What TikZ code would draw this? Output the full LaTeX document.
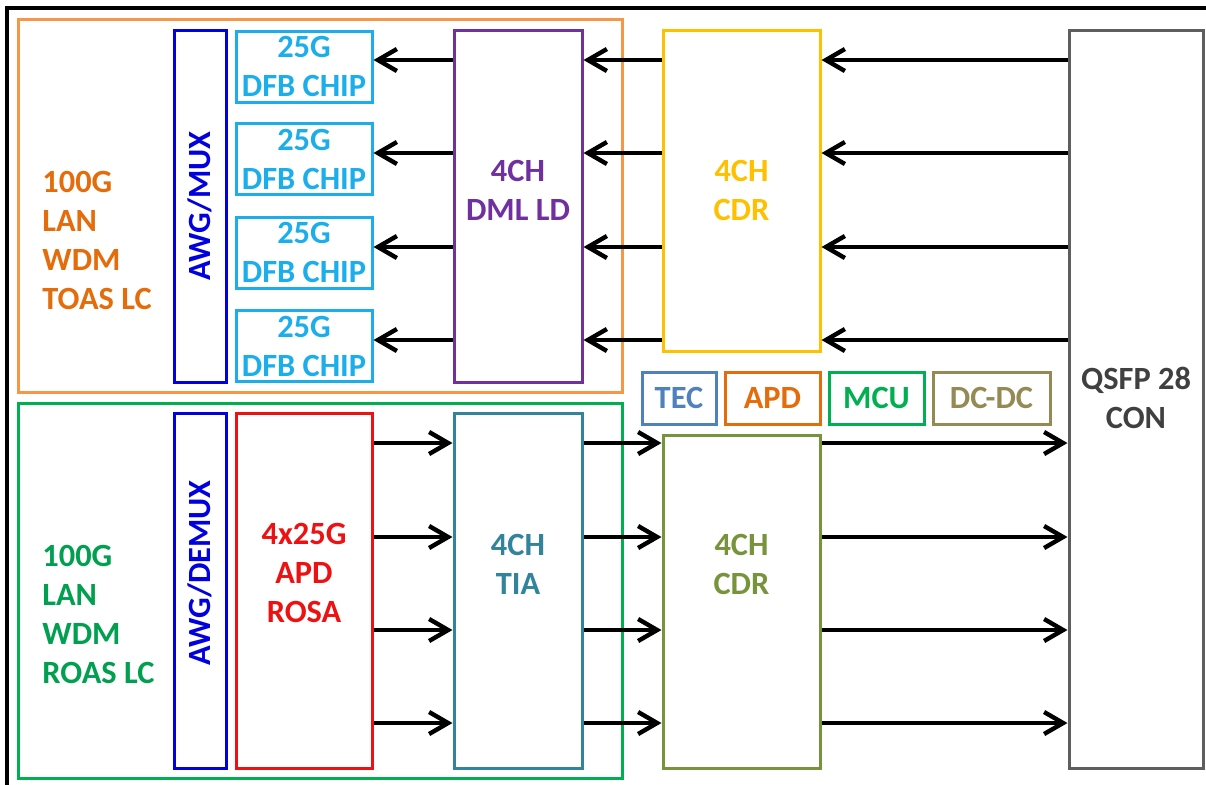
\documentclass[tikz,border=0pt]{standalone}
\usepackage{fontspec}
\setmainfont{Carlito}
\usetikzlibrary{arrows.meta}
\definecolor{txorange}{HTML}{F79646}
\definecolor{txtext}{HTML}{E46C0A}
\definecolor{rxgreen}{HTML}{00B050}
\definecolor{rxtext}{HTML}{00A050}
\definecolor{muxblue}{HTML}{0000E0}
\definecolor{dfbblue}{HTML}{1CAEEA}
\definecolor{ldpurple}{HTML}{7030A0}
\definecolor{cdryellow}{HTML}{FFC000}
\definecolor{qsfpgray}{HTML}{5E5E5E}
\definecolor{qsfptext}{HTML}{404040}
\definecolor{rosared}{HTML}{EE1111}
\definecolor{tiateal}{HTML}{31849B}
\definecolor{cdrolive}{HTML}{77933C}
\definecolor{tecblue}{HTML}{4F81BD}
\definecolor{apdorange}{HTML}{E46C0A}
\definecolor{dcdckhaki}{HTML}{948A54}
\newcommand{\blkfont}{\bfseries\fontsize{16.2}{19.5}\selectfont}

\begin{document}
\begin{tikzpicture}[x=0.5pt,y=-0.5pt]
		\tikzset{blk/.style={draw=#1,line width=1.5pt,text=#1,inner sep=0pt,align=center,font=\blkfont},
			txt/.style={text=#1,inner sep=0pt,font=\blkfont},
			sig/.style={line width=2.2pt,black,-{Straight Barb[length=9.5pt,width=11pt]}}}
		\useasboundingbox (0,0) rectangle (1206,784);
		\draw [line width=2pt] (7,795) -- (7,8) -- (1215,8);
		% transmit and receive groups
		\node (tx) at (320,205.5) [blk=txorange,minimum width=302pt,minimum height=186.5pt] {};
		\node (rx) at (320,590.5) [blk=rxgreen,minimum width=302pt,minimum height=187.5pt] {};
		\node (txtxt) at (42,240.5) [txt=txtext,anchor=west,align=left] {100G\\LAN\\WDM\\TOAS LC};
		\node (rxtxt) at (42,614.5) [txt=rxtext,anchor=west,align=left] {100G\\LAN\\WDM\\ROAS LC};
		% transmit side
		\node (mux) at (200,206) [blk=muxblue,rotate=90,minimum width=176pt,minimum height=26pt] {AWG/MUX};
		\foreach \y [count=\i] in {66.5,159,252.5,346}
			\node (dfb\i) at (304,\y) [blk=dfbblue,minimum width=68pt,minimum height=35.5pt] {25G\\DFB CHIP};
		\node (dml) at (518,206) [blk=ldpurple,minimum width=64pt,minimum height=176pt] {};
		\node (dmltxt) at (518,190) [txt=ldpurple,align=center] {4CH\\DML LD};
		\node (cdrt) at (741.5,190.5) [blk=cdryellow,minimum width=78.5pt,minimum height=160.5pt] {4CH\\CDR};
		\node (qsfp) at (1136,399) [blk=qsfpgray,minimum width=67pt,minimum height=369pt] {};
		\node (qsfptxt) at (1136,398) [txt=qsfptext,align=center] {QSFP 28\\CON};
		% support chips
		\node (tec) at (679,398) [blk=tecblue,minimum width=37pt,minimum height=26pt] {TEC};
		\node (apd) at (772.5,398) [blk=apdorange,minimum width=47.5pt,minimum height=26pt] {APD};
		\node (mcu) at (876.5,398) [blk=rxgreen,minimum width=47.5pt,minimum height=26pt] {MCU};
		\node (dcdc) at (991.5,398) [blk=dcdckhaki,minimum width=58.5pt,minimum height=26pt] {DC-DC};
		% receive side
		\node (demux) at (200,590.5) [blk=muxblue,minimum width=26pt,minimum height=177.5pt] {};
		\node (demuxtxt) at (200,573) [txt=muxblue,rotate=90] {AWG/DEMUX};
		\node (rosa) at (304,590.5) [blk=rosared,minimum width=68pt,minimum height=177.5pt] {};
		\node (rosatxt) at (304,573) [txt=rosared,align=center] {4x25G\\APD\\ROSA};
		\node (tia) at (518,590.5) [blk=tiateal,minimum width=64pt,minimum height=177.5pt] {};
		\node (tiatxt) at (518,564) [txt=tiateal,align=center] {4CH\\TIA};
		\node (cdrr) at (741.5,601.5) [blk=cdrolive,minimum width=78.5pt,minimum height=166.5pt] {};
		\node (cdrrtxt) at (741.5,564) [txt=cdrolive,align=center] {4CH\\CDR};
		% lanes
		\foreach \y [count=\i] in {60,153,247,340} {
			\coordinate (t\i) at (0,\y);
			\draw [sig] (qsfp.west |- t\i) -- (cdrt.east |- t\i);
			\draw [sig] (cdrt.west |- t\i) -- (dml.east |- t\i);
			\draw [sig] (dml.west |- t\i) -- (dfb1.east |- t\i);
		}
		\foreach \y [count=\i] in {443,537,630,723} {
			\coordinate (r\i) at (0,\y);
			\draw [sig] (rosa.east |- r\i) -- (tia.west |- r\i);
			\draw [sig] (tia.east |- r\i) -- (cdrr.west |- r\i);
			\draw [sig] (cdrr.east |- r\i) -- (qsfp.west |- r\i);
		}
	\end{tikzpicture}
\end{document}
